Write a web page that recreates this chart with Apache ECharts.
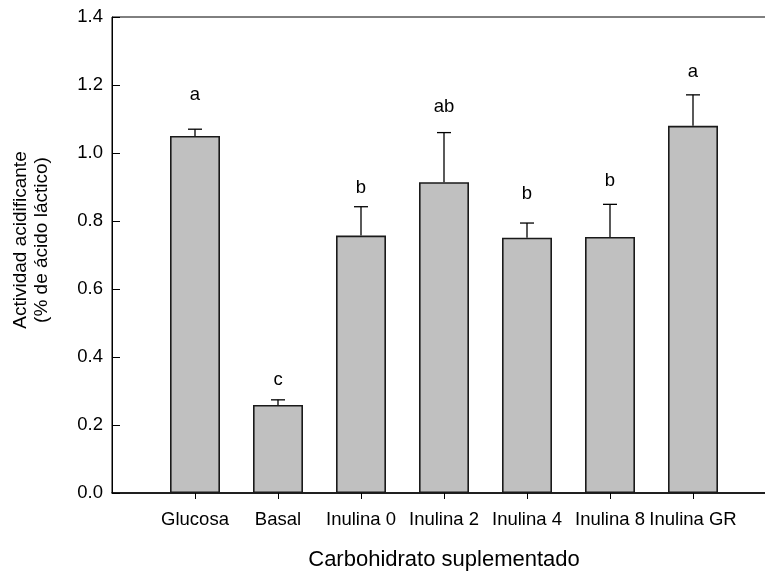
<!DOCTYPE html>
<html>
<head>
<meta charset="utf-8">
<script src="https://cdn.jsdelivr.net/npm/echarts@6/dist/echarts.min.js"></script>
<style>
html,body{margin:0;padding:0;background:#fff;}
#chart{width:765px;height:573px;}
</style>
</head>
<body>
<div id="chart"></div>
<script>
// ---- data ----
const categories = ['Glucosa', 'Basal', 'Inulina 0', 'Inulina 2', 'Inulina 4', 'Inulina 8', 'Inulina GR'];
const means = [1.05, 0.259, 0.757, 0.914, 0.751, 0.753, 1.080];
const errors = [0.020, 0.015, 0.085, 0.146, 0.043, 0.096, 0.091];
const letters = ['a', 'c', 'b', 'ab', 'b', 'b', 'a'];
const letterY = [1.172, 0.334, 0.898, 1.136, 0.881, 0.918, 1.239];
const yTicks = [0, 0.2, 0.4, 0.6, 0.8, 1.0, 1.2, 1.4];
const xTitle = 'Carbohidrato suplementado';
const yTitle = ['Actividad acidificante', '(% de ácido láctico)'];

const FONT = '"Liberation Sans", Arial, Helvetica, sans-serif';
const positions = categories.map((c, i) => i + 1);

const chart = echarts.init(document.getElementById('chart'), null, {renderer: 'canvas'});

const option = {
  animation: false,
  backgroundColor: '#ffffff',
  textStyle: {fontFamily: FONT, color: '#000'},
  grid: {
    left: 112, top: 17, width: 664, height: 476,
    show: true, borderColor: '#000', borderWidth: 1, backgroundColor: 'transparent',
    containLabel: false, outerBoundsMode: 'none'
  },
  xAxis: {
    type: 'value', min: 0, max: categories.length + 1, interval: 1,
    splitLine: {show: false},
    axisLine: {show: true, onZero: false, lineStyle: {color: '#000', width: 1.5}},
    axisTick: {show: true, inside: false, length: 6, lineStyle: {color: '#000', width: 1},
      customValues: positions},
    axisLabel: {
      show: true, margin: 17, fontSize: 18.5, fontFamily: FONT, color: '#000',
      customValues: positions,
      formatter: v => { const k = Math.round(v) - 1; return (k >= 0 && k < categories.length) ? categories[k] : ''; }
    },
    name: xTitle, nameLocation: 'middle', nameGap: 56,
    nameTextStyle: {fontSize: 22, fontFamily: FONT, color: '#000'}
  },
  yAxis: {
    type: 'value', min: yTicks[0], max: yTicks[yTicks.length - 1], interval: 0.2,
    splitLine: {show: false},
    axisLine: {show: true, lineStyle: {color: '#000', width: 1}},
    axisTick: {show: true, inside: true, length: 8, lineStyle: {color: '#000', width: 1}},
    axisLabel: {margin: 9, fontSize: 18.5, fontFamily: FONT, color: '#000',
      formatter: v => v.toFixed(1)}
  },
  graphic: [{
    type: 'text',
    x: 31, y: 240,
    rotation: Math.PI / 2,
    style: {
      text: yTitle.join('\n'),
      font: '19px ' + FONT,
      fill: '#000',
      align: 'center',
      verticalAlign: 'middle',
      lineHeight: 21
    }
  }],
  series: [
    {
      type: 'bar',
      data: positions.map((p, i) => [p, means[i]]),
      barWidth: 50,
      itemStyle: {color: '#c0c0c0', borderColor: '#1a1a1a', borderWidth: 1.6},
      z: 2
    },
    {
      type: 'custom',
      data: positions.map((p, i) => [p, means[i], means[i] + errors[i], letterY[i]]),
      renderItem: function (params, api) {
        const x = api.value(0);
        const base = api.coord([x, api.value(1)]);
        const top = api.coord([x, api.value(2)]);
        const lp = api.coord([x, api.value(3)]);
        const hw = 7;
        return {
          type: 'group',
          children: [
            {type: 'line', shape: {x1: base[0], y1: base[1], x2: top[0], y2: top[1]},
              style: {stroke: '#000', lineWidth: 1.3}},
            {type: 'line', shape: {x1: top[0] - hw, y1: top[1], x2: top[0] + hw, y2: top[1]},
              style: {stroke: '#000', lineWidth: 1.3}},
            {type: 'text', x: lp[0], y: lp[1],
              style: {text: letters[params.dataIndex], font: '18.5px ' + FONT, fill: '#000',
                align: 'center', verticalAlign: 'middle'}}
          ]
        };
      },
      z: 1
    }
  ]
};
chart.setOption(option);
</script>
</body>
</html>
